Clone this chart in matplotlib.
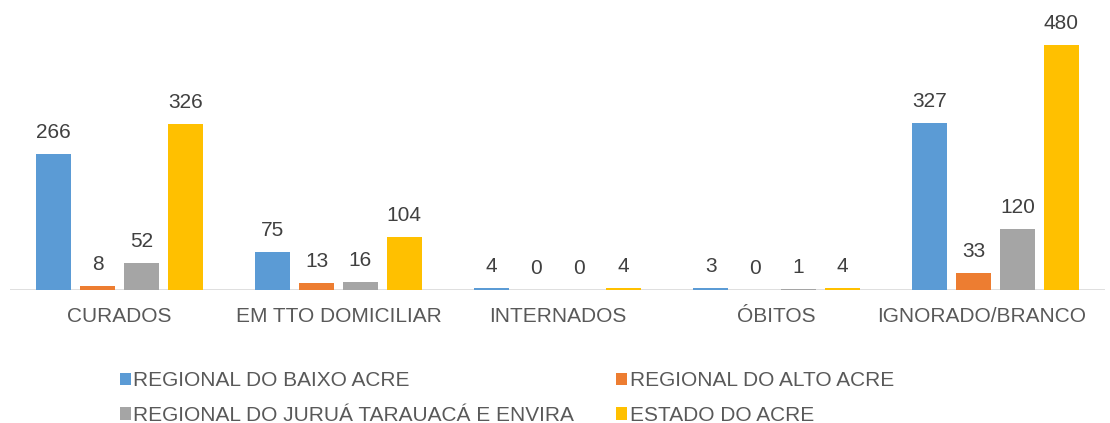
import numpy as np
import matplotlib
matplotlib.use("Agg")
import matplotlib.pyplot as plt
import matplotlib.transforms as mtransforms
from matplotlib.patches import Patch

plt.rcParams["font.family"] = ["Liberation Sans", "DejaVu Sans"]

categories = ["CURADOS", "EM TTO DOMICILIAR", "INTERNADOS", "ÓBITOS", "IGNORADO/BRANCO"]
series = ["REGIONAL DO BAIXO ACRE", "REGIONAL DO ALTO ACRE",
          "REGIONAL DO JURUÁ TARAUACÁ E ENVIRA", "ESTADO DO ACRE"]
baixo_acre = [266, 75, 4, 3, 327]
alto_acre = [8, 13, 0, 0, 33]
jurua = [52, 16, 0, 1, 120]
estado = [326, 104, 4, 4, 480]
colors = ["#5B9BD5", "#ED7D31", "#A5A5A5", "#FFC000"]

values = [baixo_acre, alto_acre, jurua, estado]

fig = plt.figure(figsize=(11.1, 4.23), dpi=100)
ax = fig.add_axes([0.009, 0.3144, 0.9865, 0.662])

x = np.arange(len(categories))
offsets = [-0.3, -0.1, 0.1, 0.3]
for vals, off, col in zip(values, offsets, colors):
    bars = ax.bar(x + off, vals, width=0.16, color=col, zorder=2)
    for b, v in zip(bars, vals):
        ax.annotate(str(v), (b.get_x() + b.get_width() / 2, v), xytext=(0, 12),
                    textcoords="offset pixels", ha="center", va="bottom",
                    fontsize=15, color="#404040")

ax.set_xlim(-0.5, len(categories) - 0.5)
ax.set_ylim(0, 548.6)
ax.axhline(0, color="#D9D9D9", lw=1.2, zorder=1)
for s in ax.spines.values():
    s.set_visible(False)
ax.set_yticks([])
ax.set_xticks(x)
ax.set_xticklabels(categories, fontsize=15, color="#595959")
ax.tick_params(axis="x", length=0, pad=12)
# last label is pulled inside the figure, as in the original
last = ax.get_xticklabels()[-1]
last.set_transform(last.get_transform() + mtransforms.ScaledTranslation(-0.14, 0, fig.dpi_scale_trans))

# legend is filled row by row in the original
order = [0, 2, 1, 3]
handles = [Patch(facecolor=colors[i], edgecolor="none") for i in order]
labels = [series[i] for i in order]
fig.legend(handles, labels, loc="upper left", bbox_to_anchor=(0.108, 0.122), ncol=2,
           frameon=False, fontsize=15, labelcolor="#595959", handlelength=0.55,
           handleheight=0.55, handletextpad=0.1, columnspacing=2.0, labelspacing=0.75,
           borderaxespad=0, borderpad=0)

fig.savefig("out.png", dpi=100)
